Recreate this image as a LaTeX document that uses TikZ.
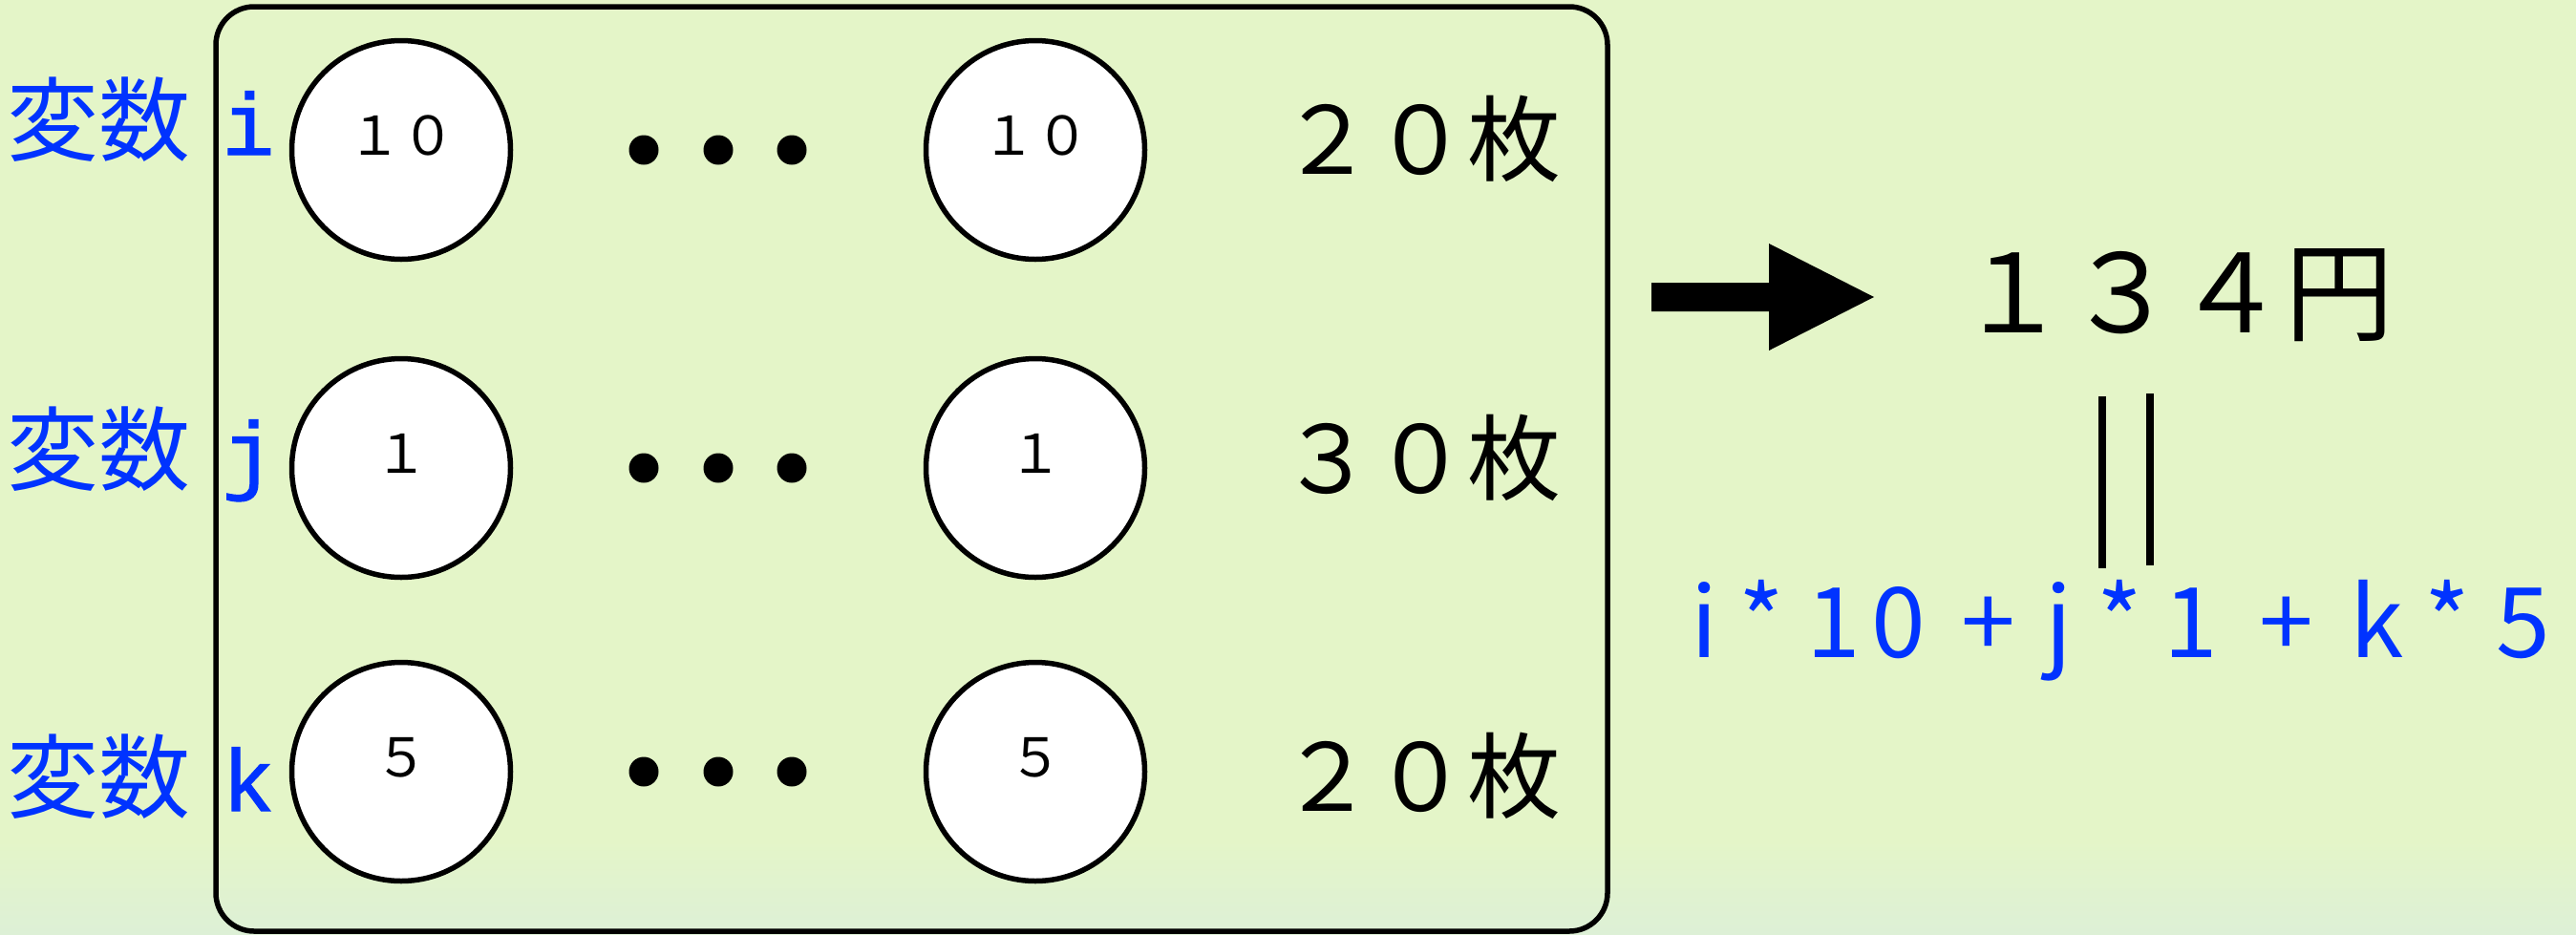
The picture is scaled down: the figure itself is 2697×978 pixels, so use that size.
\documentclass[tikz,border=0pt]{standalone}
\usepackage{fontspec}
\setmainfont{Noto Sans CJK JP}
\newfontfamily\monof[FakeBold=1.2]{Liberation Mono}
\definecolor{bgc}{RGB}{228,245,200}
\definecolor{bgb}{RGB}{221,240,214}
\definecolor{varblue}{RGB}{0,51,255}
% place one glyph centred at a given offset from the start of the line
\newcommand\gly[2]{\makebox[0pt][l]{\hspace*{#1}\makebox[0pt]{#2}}}

\begin{document}
\begin{tikzpicture}[x=1pt,y=-1pt,
  coin/.style={circle, draw=black, line width=5.5pt, fill=white, minimum size=229pt, inner sep=0pt},
  coinval/.style={font=\fontsize{56}{60}\selectfont, inner sep=0pt, anchor=base},
  dotmark/.style={circle, fill=black, minimum size=31pt, inner sep=0pt},
  varname/.style={text=varblue, font=\fontsize{96}{100}\selectfont, inner sep=0pt, anchor=base},
  varletter/.style={text=varblue, font=\monof\fontsize{92}{96}\selectfont, inner sep=0pt, anchor=base},
  count/.style={font=\fontsize{98}{100}\selectfont, inner sep=0pt, anchor=base},
  total/.style={font=\fontsize{114}{120}\selectfont, inner sep=0pt, anchor=base},
  formula/.style={text=varblue, font=\fontsize{102}{106}\selectfont, inner sep=0pt, anchor=base west}
]
\useasboundingbox (0,0) rectangle (2697,978);
% background with a faint fade towards the bottom
\fill[bgc] (0,0) rectangle (2697,978);
\shade[top color=bgc, bottom color=bgb] (0,880) rectangle (2697,978);

% frame around the coins
\draw[line width=5.5pt, rounded corners=40pt] (226,7) rectangle (1683,975);

% row i : 10-yen coins
\node[varname] (vi) at (104,161) {変数};
\node[varletter] (li) at (260,162) {i};
\node[coin] (ci1) at (420,157) {};
\node[coinval] (ti1) at (420,162) {１０};
\node[dotmark] (di1) at (674,157) {};
\node[dotmark] (di2) at (752,157) {};
\node[dotmark] (di3) at (829,157) {};
\node[coin] (ci2) at (1084,157) {};
\node[coinval] (ti2) at (1084,162) {１０};
\node[count] (ni) at (1487,182) {２０枚};

% row j : 1-yen coins
\node[varname] (vj) at (104,506) {変数};
\node[varletter] (lj) at (260,506) {j};
\node[coin] (cj1) at (420,490) {};
\node[coinval] (tj1) at (420,495) {１};
\node[dotmark] (dj1) at (674,490) {};
\node[dotmark] (dj2) at (752,490) {};
\node[dotmark] (dj3) at (829,490) {};
\node[coin] (cj2) at (1084,490) {};
\node[coinval] (tj2) at (1084,495) {１};
\node[count] (nj) at (1487,516) {３０枚};

% row k : 5-yen coins
\node[varname] (vk) at (104,849) {変数};
\node[varletter] (lk) at (260,849) {k};
\node[coin] (ck1) at (420,808) {};
\node[coinval] (tk1) at (420,813) {５};
\node[dotmark] (dk1) at (674,808) {};
\node[dotmark] (dk2) at (752,808) {};
\node[dotmark] (dk3) at (829,808) {};
\node[coin] (ck2) at (1084,808) {};
\node[coinval] (tk2) at (1084,813) {５};
\node[count] (nk) at (1487,849) {２０枚};

% block arrow towards the total
\fill (1729,296) -- (1852,296) -- (1852,255) -- (1962,311) -- (1852,367)
      -- (1852,326) -- (1729,326) -- cycle;

% total and its formula
\node[total] (sum) at (2278,348) {１３４円};
\node[formula] (expr) at (1750,688) {\hbox to 940pt{%
  \gly{34pt}{i}\gly{94pt}{*}\gly{170pt}{1}\gly{238pt}{0}\gly{332pt}{+}%
  \gly{405pt}{j}\gly{469pt}{*}\gly{544pt}{1}\gly{644pt}{+}\gly{738pt}{k}%
  \gly{812pt}{*}\gly{892pt}{5}\hfill}};

% equality bars between the total and the formula
\coordinate (e1t) at (2201,415);
\coordinate (e1b) at (2201,595);
\coordinate (e2t) at (2251,412);
\coordinate (e2b) at (2251,592);
\draw[line width=8pt] (e1t) -- (e1b);
\draw[line width=8pt] (e2t) -- (e2b);
\end{tikzpicture}
\end{document}
